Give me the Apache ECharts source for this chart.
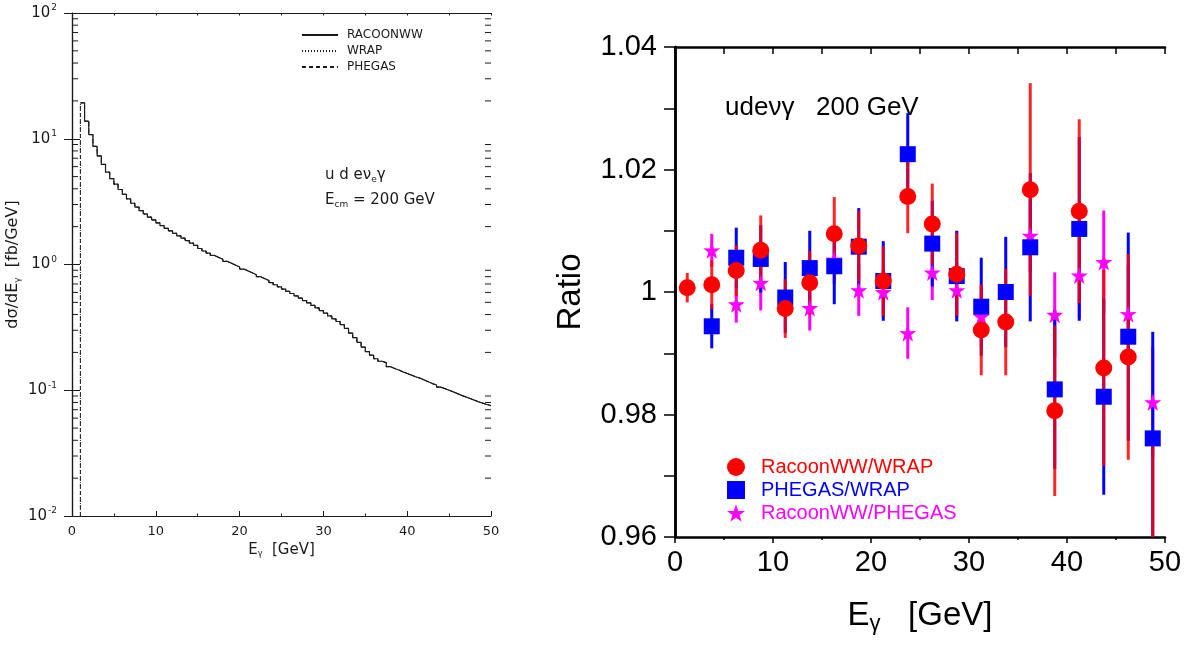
<!DOCTYPE html>
<html>
<head>
<meta charset="utf-8">
<script src="https://cdn.jsdelivr.net/npm/echarts@6/dist/echarts.min.js"></script>
<style>
  html, body { margin: 0; padding: 0; background: #fff; }
  #chart { width: 1189px; height: 652px; }
</style>
</head>
<body>
<div id="chart"></div>
<script>
// left panel: d sigma / d E_gamma, 0.5 GeV bins starting at 1 GeV
const binStart = 1
const binWidth = 0.5
const spectrum = [
  19.3, 13.8, 10.8, 8.7, 7.3, 6.25, 5.43, 4.82, 4.35, 3.95,
  3.62, 3.33, 3.07, 2.86, 2.68, 2.52, 2.38, 2.26, 2.14, 2.04,
  1.94, 1.85, 1.77, 1.69, 1.62, 1.55, 1.48, 1.42, 1.34, 1.28,
  1.23, 1.18, 1.14, 1.10, 1.06, 1.025, 0.99, 0.955, 0.92, 0.89,
  0.86, 0.83, 0.80, 0.772, 0.745, 0.717, 0.69, 0.665, 0.638, 0.612,
  0.588, 0.563, 0.54, 0.517, 0.495, 0.473, 0.452, 0.43, 0.41, 0.39,
  0.37, 0.352, 0.333, 0.31, 0.285, 0.262, 0.24, 0.22, 0.203, 0.19,
  0.178, 0.17, 0.166, 0.154, 0.149, 0.145, 0.140, 0.136, 0.132, 0.128,
  0.125, 0.121, 0.117, 0.113, 0.110, 0.106, 0.103, 0.100, 0.097, 0.094,
  0.091, 0.0885, 0.086, 0.0835, 0.081, 0.079, 0.077, 0.0755
]
const spectrumNames = ['RACOONWW', 'WRAP', 'PHEGAS']

// right panel: ratios in 2.5 GeV bins
const ratioBins = [1.25, 3.75, 6.25, 8.75, 11.25, 13.75, 16.25, 18.75, 21.25, 23.75,
  26.25, 28.75, 31.25, 33.75, 36.25, 38.75, 41.25, 43.75, 46.25, 48.75]
const racoonWrap = [1.0007, 1.0012, 1.0035, 1.0068, 0.9973, 1.0015, 1.0095, 1.0075, 1.0018, 1.0156,
  1.0111, 1.0029, 0.9938, 0.9951, 1.0167, 0.9806, 1.0132, 0.9876, 0.9894, 0.958]
const racoonWrapErr = [0.0024, 0.0040, 0.0042, 0.0057, 0.0048, 0.0052, 0.0060, 0.0058, 0.0057, 0.0060,
  0.0066, 0.0068, 0.0074, 0.0087, 0.0174, 0.0139, 0.0150, 0.0160, 0.0168, 0.0180]
const phegasWrap = [null, 0.9944, 1.0056, 1.0054, 0.9991, 1.0039, 1.0042, 1.0074, 1.0018, 1.0225,
  1.0079, 1.0026, 0.9976, 1.0000, 1.0073, 0.9841, 1.0103, 0.9829, 0.9927, 0.9761]
const phegasWrapErr = [null, 0.0036, 0.0049, 0.0055, 0.0058, 0.0061, 0.0062, 0.0063, 0.0065, 0.0067,
  0.0070, 0.0074, 0.0080, 0.0090, 0.0121, 0.0130, 0.0150, 0.0160, 0.0170, 0.0174]
const racoonPhegas = [null, 1.0068, 0.9980, 1.0015, null, 0.9974, 1.0053, 1.0003, 1.0000, 0.9933,
  1.0032, 1.0003, 0.9960, null, 1.0092, 0.9963, 1.0027, 1.0049, 0.9964, 0.9820]
const racoonPhegasErr = [null, 0.0027, 0.0030, 0.0045, null, 0.0037, 0.0040, 0.0042, 0.0040, 0.0042,
  0.0045, 0.0045, 0.0050, null, 0.0060, 0.0069, 0.0070, 0.0084, 0.0080, 0.0090]

const hersheyFont = 'DejaVu Sans'
const arial = 'Liberation Sans'
const starPath = 'path://M50,0 L61.8,35.1 L97.6,34.5 L69,56.1 L79.4,90.5 L50,70 L20.6,90.5 L31,56.1 L2.4,34.5 L38.2,35.1 Z'

// minor ticks of the log axis (2..9 in each decade)
const logMinor = []
for (const d of [0.01, 0.1, 1, 10]) {
  for (let m = 2; m <= 9; m++) logMinor.push(+(d * m).toPrecision(3))
}

function stepData(withFloor) {
  const pts = spectrum.map((v, i) => [binStart + i * binWidth, v])
  pts.push([binStart + spectrum.length * binWidth, spectrum[spectrum.length - 1]])
  if (withFloor) pts.unshift([binStart, 0.01])
  return pts
}

function errorBars(name, values, errs, color, opacity) {
  const data = []
  ratioBins.forEach((x, i) => {
    if (values[i] != null) data.push([x, values[i] - errs[i], values[i] + errs[i]])
  })
  return {
    type: 'custom',
    name: name + ' err',
    xAxisIndex: 2,
    yAxisIndex: 2,
    clip: true,
    silent: true,
    data: data,
    renderItem: (params, api) => {
      const lo = api.coord([api.value(0), api.value(1)])
      const hi = api.coord([api.value(0), api.value(2)])
      return {
        type: 'line',
        shape: { x1: lo[0], y1: lo[1], x2: hi[0], y2: hi[1] },
        style: { stroke: color, lineWidth: 3, opacity: opacity }
      }
    }
  }
}

function markers(name, values, color, symbol, size) {
  const data = []
  ratioBins.forEach((x, i) => {
    if (values[i] != null) data.push([x, values[i]])
  })
  return {
    type: 'scatter',
    name: name,
    xAxisIndex: 2,
    yAxisIndex: 2,
    symbol: symbol,
    symbolSize: size,
    itemStyle: { color: color, opacity: 1 },
    clip: true,
    data: data
  }
}

const black = '#000'
const penColor = '#1a1a1a'

const chart = echarts.init(document.getElementById('chart'))
chart.setOption({
  animation: false,
  backgroundColor: '#fff',
  grid: [
    { left: 72, top: 13, width: 419, height: 503 },
    { left: 675, top: 47, width: 490, height: 490 }
  ],
  legend: [
    {
      orient: 'vertical',
      left: 296,
      top: 24,
      itemWidth: 36,
      itemHeight: 10,
      itemGap: 4,
      itemStyle: { opacity: 0 },
      data: spectrumNames,
      textStyle: { fontFamily: hersheyFont, fontSize: 12, color: penColor, padding: [0, 0, 0, 4] }
    },
    {
      orient: 'vertical',
      left: 722,
      top: 452,
      itemWidth: 18,
      itemHeight: 18,
      itemGap: 3,
      data: [
        { name: 'RacoonWW/WRAP', textStyle: { color: '#ff0000' } },
        { name: 'PHEGAS/WRAP', textStyle: { color: '#0000ff' } },
        { name: 'RacoonWW/PHEGAS', textStyle: { color: '#ff00ff' } }
      ],
      textStyle: { fontFamily: arial, fontSize: 20, padding: [0, 0, 0, 11] }
    }
  ],
  xAxis: [
    {
      gridIndex: 0, type: 'value', min: 0, max: 50, interval: 10, position: 'bottom',
      axisLine: { lineStyle: { color: penColor, width: 1.2 } },
      axisTick: { inside: true, length: 5, lineStyle: { color: penColor } },
      minorTick: { show: true, splitNumber: 2, length: 2.5, lineStyle: { color: penColor } },
      splitLine: { show: false },
      axisLabel: { margin: 9, fontFamily: hersheyFont, fontSize: 13, color: penColor },
      name: 'E{s|γ}  [GeV]',
      nameLocation: 'middle',
      nameGap: 24,
      nameTextStyle: {
        fontFamily: hersheyFont, fontSize: 15, color: penColor,
        rich: { s: { fontFamily: hersheyFont, fontSize: 8, color: penColor, padding: [8, 0, 0, 0] } }
      }
    },
    {
      gridIndex: 0, type: 'value', min: 0, max: 50, interval: 5, position: 'top',
      axisLine: { lineStyle: { color: penColor, width: 1.2 } },
      axisTick: { inside: true, length: 2.5, lineStyle: { color: penColor } },
      splitLine: { show: false },
      axisLabel: { show: false }
    },
    {
      gridIndex: 1, type: 'value', min: 0, max: 50, interval: 10, position: 'bottom',
      axisLine: { lineStyle: { color: black, width: 2.5 } },
      axisTick: { inside: false, length: 6, lineStyle: { color: black, width: 1.5 } },
      minorTick: { show: true, splitNumber: 2, length: 3, lineStyle: { color: black, width: 1.5 } },
      splitLine: { show: false },
      axisLabel: { margin: 11, fontFamily: arial, fontSize: 29, color: black },
      name: 'E{s|γ}   [GeV]',
      nameLocation: 'middle',
      nameGap: 60,
      nameTextStyle: {
        fontFamily: arial, fontSize: 33, color: black,
        rich: { s: { fontFamily: arial, fontSize: 22, color: black, padding: [16, 0, 0, 0] } }
      }
    },
    {
      gridIndex: 1, type: 'value', min: 0, max: 50, interval: 5, position: 'top',
      axisLine: { lineStyle: { color: black, width: 2.5 } },
      axisTick: { inside: true, length: 7, lineStyle: { color: black, width: 1.5 } },
      splitLine: { show: false },
      axisLabel: { show: false }
    }
  ],
  yAxis: [
    {
      gridIndex: 0, type: 'log', logBase: 10, min: 0.01, max: 100, position: 'left',
      axisLine: { show: true, lineStyle: { color: penColor, width: 1.2 } },
      axisTick: { show: true, inside: true, length: 8, lineStyle: { color: penColor } },
      splitLine: { show: false },
      axisLabel: {
        margin: 15, color: penColor, fontFamily: hersheyFont, fontSize: 15,
        formatter: v => '10{e|' + Math.round(Math.log10(v)) + '}',
        rich: { e: { fontFamily: hersheyFont, fontSize: 9, color: penColor, padding: [0, 0, 10, 1] } }
      },
      name: 'dσ/dE{s|γ}  [fb/GeV]',
      nameLocation: 'middle',
      nameGap: 50,
      nameTextStyle: {
        fontFamily: hersheyFont, fontSize: 16, color: penColor,
        rich: { s: { fontFamily: hersheyFont, fontSize: 9, color: penColor, padding: [9, 0, 0, 0] } }
      }
    },
    {
      gridIndex: 0, type: 'log', logBase: 10, min: 0.01, max: 100, position: 'right',
      axisLine: { show: true, lineStyle: { color: penColor, width: 1.2 } },
      axisTick: { show: true, inside: true, length: 8, lineStyle: { color: penColor } },
      splitLine: { show: false },
      axisLabel: { show: false }
    },
    {
      gridIndex: 1, type: 'value', min: 0.96, max: 1.04, interval: 0.02, position: 'left',
      axisLine: { show: true, lineStyle: { color: black, width: 2.5 } },
      axisTick: { show: true, inside: false, length: 9, lineStyle: { color: black, width: 1.5 } },
      minorTick: { show: true, splitNumber: 2, length: 9, lineStyle: { color: black, width: 1.5 } },
      splitLine: { show: false },
      axisLabel: {
        margin: 18, fontFamily: arial, fontSize: 29, color: black,
        formatter: v => String(+v.toFixed(2))
      },
      name: 'Ratio',
      nameLocation: 'middle',
      nameGap: 88,
      nameTextStyle: { fontFamily: arial, fontSize: 33, color: black }
    },
    {
      gridIndex: 1, type: 'value', min: 0.96, max: 1.04, interval: 0.02, position: 'right',
      axisLine: { show: true, lineStyle: { color: black, width: 2.5 } },
      axisTick: { show: true, inside: true, length: 11, lineStyle: { color: black, width: 1.5 } },
      minorTick: { show: true, splitNumber: 2, length: 11, lineStyle: { color: black, width: 1.5 } },
      splitLine: { show: false },
      axisLabel: { show: false }
    }
  ],
  graphic: [
    {
      type: 'text', left: 325, top: 168,
      style: {
        text: 'u d eν{s|e}γ', fontFamily: hersheyFont, fontSize: 15, fill: penColor,
        rich: { s: { fontFamily: hersheyFont, fontSize: 9, fill: penColor, padding: [9, 0, 0, 0] } }
      }
    },
    {
      type: 'text', left: 325, top: 193,
      style: {
        text: 'E{s|cm} = 200 GeV', fontFamily: hersheyFont, fontSize: 15, fill: penColor,
        rich: { s: { fontFamily: hersheyFont, fontSize: 9, fill: penColor, padding: [9, 0, 0, 0] } }
      }
    },
    {
      type: 'text', left: 725, top: 95,
      style: { text: 'udeνγ   200 GeV', fontFamily: arial, fontSize: 26, fill: black }
    }
  ],
  series: [
    {
      type: 'custom',
      name: 'log minor ticks',
      xAxisIndex: 0,
      yAxisIndex: 0,
      silent: true,
      data: logMinor.map(v => [0, v]),
      renderItem: (params, api) => {
        const y = api.coord([0, api.value(1)])[1]
        const cs = params.coordSys
        const st = { stroke: penColor, lineWidth: 1 }
        return {
          type: 'group',
          children: [
            { type: 'line', shape: { x1: cs.x, y1: y, x2: cs.x + 6, y2: y }, style: st },
            { type: 'line', shape: { x1: cs.x + cs.width - 6, y1: y, x2: cs.x + cs.width, y2: y }, style: st }
          ]
        }
      }
    },
    {
      type: 'line', name: 'PHEGAS', xAxisIndex: 0, yAxisIndex: 0, step: 'end', symbol: 'none',
      lineStyle: { color: penColor, width: 1, type: [4, 3] }, itemStyle: { color: penColor },
      data: stepData(true)
    },
    {
      type: 'line', name: 'WRAP', xAxisIndex: 0, yAxisIndex: 0, step: 'end', symbol: 'none',
      lineStyle: { color: penColor, width: 1, type: [1, 2] }, itemStyle: { color: penColor },
      data: stepData(true)
    },
    {
      type: 'line', name: 'RACOONWW', xAxisIndex: 0, yAxisIndex: 0, step: 'end', symbol: 'none',
      lineStyle: { color: penColor, width: 1.2, type: 'solid' }, itemStyle: { color: penColor },
      data: stepData(false)
    },
    errorBars('RacoonWW/PHEGAS', racoonPhegas, racoonPhegasErr, '#ff00ff', 1),
    markers('RacoonWW/PHEGAS', racoonPhegas, '#ff00ff', starPath, 17),
    errorBars('PHEGAS/WRAP', phegasWrap, phegasWrapErr, '#0000ff', 1),
    markers('PHEGAS/WRAP', phegasWrap, '#0000ff', 'rect', 16),
    errorBars('RacoonWW/WRAP', racoonWrap, racoonWrapErr, '#ff0000', 0.85),
    markers('RacoonWW/WRAP', racoonWrap, '#ff0000', 'circle', 17)
  ]
})
</script>
</body>
</html>
